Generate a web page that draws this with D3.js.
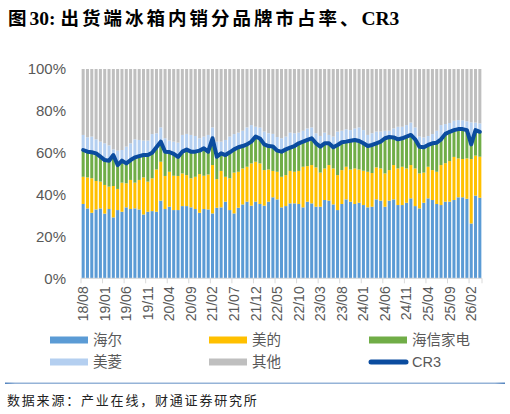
<!DOCTYPE html>
<html><head><meta charset="utf-8">
<script src="https://cdn.jsdelivr.net/npm/d3@7/dist/d3.min.js"></script>
<style>
html,body{margin:0;padding:0;background:#fff;}
svg{display:block;}
</style></head>
<body>
<svg id="chart" width="510" height="414"></svg>
<script>
const months = ["18/08","18/09","18/10","18/11","18/12",
"19/01","19/02","19/03","19/04","19/05","19/06","19/07","19/08","19/09","19/10","19/11","19/12",
"20/01","20/02","20/03","20/04","20/05","20/06","20/07","20/08","20/09","20/10","20/11","20/12",
"21/01","21/02","21/03","21/04","21/05","21/06","21/07","21/08","21/09","21/10","21/11","21/12",
"22/01","22/02","22/03","22/04","22/05","22/06","22/07","22/08","22/09","22/10","22/11","22/12",
"23/01","23/02","23/03","23/04","23/05","23/06","23/07","23/08","23/09","23/10","23/11","23/12",
"24/01","24/02","24/03","24/04","24/05","24/06","24/07","24/08","24/09","24/10","24/11","24/12",
"25/01","25/02","25/03","25/04","25/05","25/06","25/07","25/08","25/09","25/10","25/11","25/12",
"26/01","26/02","26/03","26/04"];

const haier = [35.5,33.4,31.3,32.9,33.4,30.9,33.1,29.1,32.6,31.8,
33.9,33.1,33.4,32.9,30.5,31.8,32.1,31.8,37.1,33.1,
34.2,32.6,32.6,34.5,34.5,33.9,33.1,31.3,33.1,32.9,
31.0,33.7,33.9,36.6,32.6,31.0,33.7,35.3,36.6,34.7,
36.6,35.5,34.7,36.6,38.7,37.7,33.9,34.5,35.8,35.8,
35.5,33.9,36.6,35.8,34.2,34.2,37.4,37.1,35.3,32.6,
35.5,37.7,36.6,35.5,36.1,35.0,33.9,34.2,37.7,37.1,
34.2,37.1,37.7,35.0,35.0,36.1,38.2,34.5,33.4,36.1,
38.2,37.4,35.5,35.0,36.6,36.6,37.4,38.7,38.7,38.0,
26.2,39.5,38.5];

const midea = [13.0,14.8,16.5,13.6,12.8,13.7,10.7,15.0,10.1,13.9,
11.5,13.9,12.3,14.1,17.7,14.4,15.7,20.2,18.6,15.8,
16.7,16.4,16.3,15.6,14.8,13.9,15.4,18.5,15.9,16.7,
23.1,13.7,17.4,11.9,15.2,19.5,17.2,17.2,16.7,20.2,
19.1,19.4,17.0,15.4,12.6,13.2,14.6,14.8,15.5,15.1,
15.8,19.4,17.0,18.3,18.8,16.3,15.1,17.0,17.2,16.7,
16.2,15.6,15.4,17.0,15.9,16.4,17.0,16.1,15.3,15.4,
15.9,14.6,16.4,17.5,18.3,16.4,15.9,18.0,16.7,14.4,
15.1,14.3,15.4,19.1,18.4,19.4,20.6,18.6,18.3,19.3,
30.8,19.1,19.6];

const hisense = [12.8,12.3,12.4,13.2,11.9,11.9,12.4,14.8,11.4,10.5,
9.5,9.5,12.1,11.4,10.7,12.7,12.2,10.6,9.6,11.6,
9.4,10.5,9.1,10.4,12.2,12.7,12.0,11.2,13.1,10.9,
12.8,10.7,8.4,10.4,12.4,11.1,11.7,10.7,10.7,10.4,
12.0,11.9,12.3,11.2,11.7,10.1,12.0,12.3,11.1,12.3,
13.2,12.0,12.5,12.8,11.5,12.4,12.0,10.4,10.1,14.4,
13.3,12.0,13.7,13.6,13.6,13.1,12.3,13.4,11.5,12.8,
16.8,15.8,13.2,13.9,13.6,15.2,14.4,13.9,12.8,12.1,
10.4,12.8,13.9,12.3,14.0,14.0,12.8,14.0,14.3,13.5,
7.0,12.2,11.9];

const meiling = [7.2,6.9,7.5,6.7,7.2,8.0,7.3,2.7,6.9,5.1,
8.0,8.0,8.6,7.7,6.9,6.9,8.9,6.7,6.8,6.4,
5.5,5.8,6.8,8.0,7.5,8.0,7.5,5.9,5.6,8.0,
5.2,7.2,5.6,7.2,7.5,7.3,7.0,7.3,8.1,7.9,
4.7,5.2,6.1,6.1,6.0,6.5,6.4,6.1,7.2,6.1,
5.1,5.2,5.5,5.2,4.8,5.1,5.1,4.0,5.1,6.4,
5.5,5.9,5.1,5.5,6.5,6.3,5.3,5.6,5.6,4.8,
3.6,3.0,4.3,6.0,5.5,5.5,5.9,5.7,4.8,4.7,
4.3,4.4,5.7,6.8,4.7,4.2,4.5,4.3,4.2,4.2,
10.5,3.6,4.0];

const others = [31.5,32.6,32.3,33.6,34.7,35.5,36.5,38.4,39.0,38.7,
37.1,35.5,33.6,33.9,34.2,34.2,31.1,30.7,27.9,33.1,
34.2,34.7,35.2,31.5,31.0,31.5,32.0,33.1,32.3,31.5,
27.9,34.7,34.7,33.9,32.3,31.1,30.4,29.5,27.9,26.8,
27.6,28.0,29.9,30.7,31.0,32.5,33.1,32.3,30.4,30.7,
30.4,29.5,28.4,27.9,30.7,32.0,30.4,31.5,32.3,29.9,
29.5,28.8,29.2,28.4,27.9,29.2,31.5,30.7,29.9,29.9,
29.5,29.5,28.4,27.6,27.6,26.8,25.6,27.9,32.3,32.7,
32.0,31.1,29.5,26.8,26.3,25.8,24.7,24.4,24.5,25.0,
25.5,25.6,26.0];

const yTicks = [0,20,40,60,80,100];
const seriesNames = ["海尔","美的","海信家电","美菱","其他"];
const lineName = "CR3";
const colors = ["#5b9bd5","#ffc000","#70ad47","#b4cff0","#bfbfbf"];
const lineColor = "#0b4c9f";
const titleParts = [["图",true],["30: ",false],["出货端冰箱内销分品牌市占率、",true],["CR3",false]];
const sourceText = "数据来源：产业在线，财通证券研究所";

const rows = months.map((m,i)=>({month:m, "海尔":haier[i], "美的":midea[i], "海信家电":hisense[i], "美菱":meiling[i], "其他":others[i]}));
const cr3 = months.map((m,i)=>({month:m, v: haier[i]+midea[i]+hisense[i]}));

const svg = d3.select("#chart");
const L = 81, R = 482, T = 69, B = 278.3;

const x = d3.scaleBand().domain(months).range([L,R]).paddingInner(0.3).paddingOuter(0.15);
const y = d3.scaleLinear().domain([0,100]).range([B,T]);

// title
const title = svg.append("text").attr("x",8).attr("y",25)
  .attr("font-family","'Liberation Serif','Noto Sans CJK SC',serif")
  .attr("font-weight","bold").attr("font-size",18.5).attr("fill","#000");
titleParts.forEach(([t,cjk])=>{
  title.append("tspan").attr("letter-spacing",cjk?3.0:0).attr("font-size",cjk?18.5:19.5).text(t);
});

// stacked bars
const stack = d3.stack().keys(seriesNames).order(d3.stackOrderNone).offset(d3.stackOffsetNone);
const stacked = stack(rows);
svg.append("g").selectAll("g").data(stacked).join("g")
  .attr("fill",(d,i)=>colors[i])
  .selectAll("rect").data(d=>d).join("rect")
  .attr("x",d=>x(d.data.month))
  .attr("width",x.bandwidth())
  .attr("y",d=>y(Math.min(100,d[1])))
  .attr("height",d=>Math.max(0,y(d[0])-y(Math.min(100,d[1]))));

// x axis line & ticks
const xa = svg.append("g");
xa.append("line").attr("x1",L).attr("x2",R).attr("y1",B).attr("y2",B).attr("stroke","#d9d9d9").attr("stroke-width",1);
const step = x.step();
months.forEach((m,i)=>{
  if(i%5===0){
    const bx = x(m) - step*x.paddingInner()/2;
    xa.append("line").attr("x1",bx).attr("x2",bx).attr("y1",B).attr("y2",B+5).attr("stroke","#d9d9d9");
    xa.append("text")
      .attr("transform",`translate(${x(m)+x.bandwidth()/2},${B+8}) rotate(-90)`)
      .attr("text-anchor","end").attr("dy","0.35em")
      .attr("font-family","'Liberation Sans',Arial,sans-serif").attr("font-size",14).attr("fill","#595959")
      .text(m);
  }
});
xa.append("line").attr("x1",R).attr("x2",R).attr("y1",B).attr("y2",B+5).attr("stroke","#d9d9d9");

// y axis labels
const ya = d3.axisLeft(y).tickValues(yTicks).tickFormat(d=>d+"%").tickSize(0).tickPadding(0);
svg.append("g").attr("transform",`translate(66,0)`).call(ya)
  .call(g=>g.select(".domain").remove())
  .call(g=>g.selectAll("text").attr("font-family","'Liberation Sans',Arial,sans-serif").attr("font-size",15).attr("fill","#595959"));

// CR3 line
svg.append("path").datum(cr3)
  .attr("fill","none").attr("stroke",lineColor).attr("stroke-width",4)
  .attr("stroke-linejoin","round").attr("stroke-linecap","round")
  .attr("d",d3.line().x(d=>x(d.month)+x.bandwidth()/2).y(d=>y(d.v)));

// legend
const legendItems = seriesNames.map((n,i)=>({name:n,color:colors[i],type:"bar"})).concat([{name:lineName,color:lineColor,type:"line"}]);
const colX = [50,209,369], rowY = [340,362];
const lg = svg.append("g");
legendItems.forEach((d,i)=>{
  const cx = colX[i%3], cy = rowY[Math.floor(i/3)];
  if(d.type==="bar"){
    lg.append("rect").attr("x",cx).attr("y",cy-3.5).attr("width",38).attr("height",7).attr("fill",d.color);
  } else {
    lg.append("line").attr("x1",cx+2).attr("x2",cx+37).attr("y1",cy).attr("y2",cy).attr("stroke",d.color).attr("stroke-width",5).attr("stroke-linecap","round");
  }
  lg.append("text").attr("x",cx+43).attr("y",cy).attr("dy","0.36em")
    .attr("font-family","'Liberation Sans','Noto Sans CJK SC',sans-serif").attr("font-size",14.5).attr("fill","#595959")
    .text(d.name);
});

// bottom rule
const grad = svg.append("defs").append("linearGradient").attr("id","rule").attr("x1","0").attr("x2","1");
grad.append("stop").attr("offset","0").attr("stop-color","#4f81bd");
grad.append("stop").attr("offset","0.02").attr("stop-color","#95b3d7");
grad.append("stop").attr("offset","0.98").attr("stop-color","#95b3d7");
grad.append("stop").attr("offset","1").attr("stop-color","#4f81bd");
svg.append("rect").attr("x",5).attr("y",382.5).attr("width",500).attr("height",1.5).attr("fill","url(#rule)");

// source
svg.append("text").attr("x",7).attr("y",405)
  .attr("font-family","'Noto Sans CJK SC',sans-serif").attr("font-size",13).attr("letter-spacing",1.8).attr("fill","#222")
  .text(sourceText);
</script>
</body></html>
